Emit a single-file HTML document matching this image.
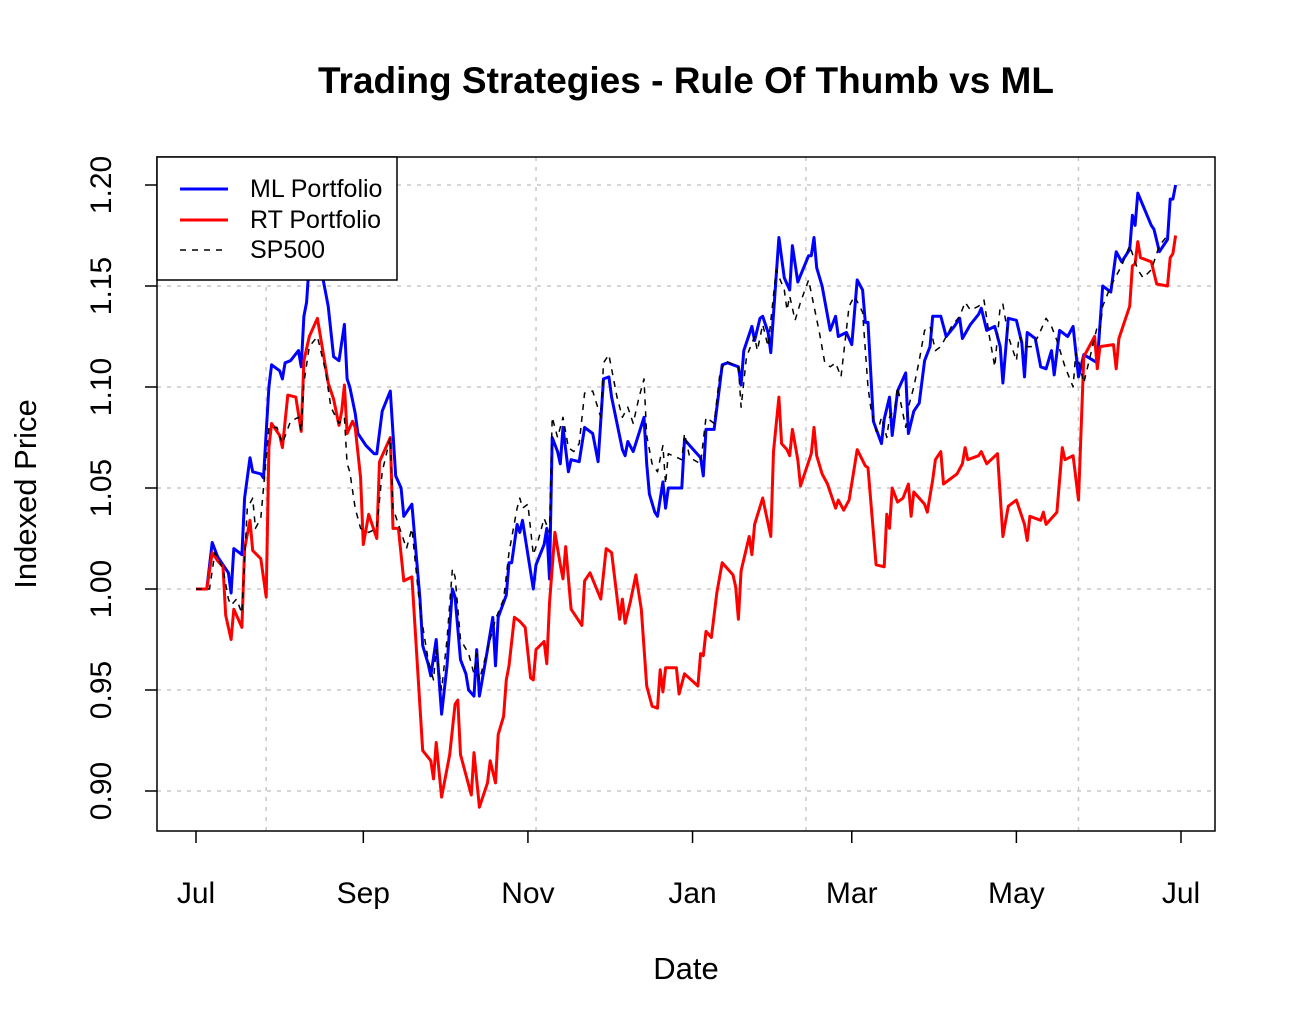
<!DOCTYPE html>
<html><head><meta charset="utf-8"><style>
html,body{margin:0;padding:0;background:#fff;}
svg{display:block;font-family:"Liberation Sans",Arial,sans-serif;}
</style></head><body>
<svg id="chart" width="1296" height="1028" viewBox="0 0 1296 1028" xmlns="http://www.w3.org/2000/svg">
<rect width="1296" height="1028" fill="#fff"/>
<text x="686" y="93" text-anchor="middle" font-size="37" font-weight="bold">Trading Strategies - Rule Of Thumb vs ML</text>
<text x="686" y="979" text-anchor="middle" font-size="31">Date</text>
<text transform="translate(36,494) rotate(-90)" text-anchor="middle" font-size="31">Indexed Price</text>
<g id="grid"></g>
<g id="series"></g>
<rect x="157" y="157" width="1058" height="674" fill="none" stroke="#000" stroke-width="1.5"/>
<g id="axes"></g>
<g>
<rect x="157" y="157" width="240" height="123" fill="#fff" stroke="#000" stroke-width="1.5"/>
<g><line x1="180" y1="189" x2="228" y2="189" stroke="#0000ff" stroke-width="3"/><text x="250" y="197" font-size="25">ML Portfolio</text></g>
<g><line x1="180" y1="220" x2="228" y2="220" stroke="#ff0000" stroke-width="3"/><text x="250" y="228" font-size="25">RT Portfolio</text></g>
<g><line x1="180" y1="250" x2="228" y2="250" stroke="#000" stroke-width="1.5" stroke-dasharray="6,6"/><text x="250" y="258" font-size="25">SP500</text></g>
</g>
</svg>
<script>
const xTickLabels = ["Jul","Sep","Nov","Jan","Mar","May","Jul"];
const xTickDays = [0,62,123,184,243,304,365];
const xGridDays = [26,126,226,327];
const yTicks = [0.90,0.95,1.00,1.05,1.10,1.15,1.20];

const mlDays = [0,4,6,8,10,12,13,14,16,17,18,20,21,24,25,27,28,31,32,33,35,38,39,40,41,42,43,46,47,49,51,53,55,56,57,59,60,61,63,66,67,69,72,73,74,76,77,80,83,84,86,87,89,91,93,95,96,98,100,101,103,104,105,108,110,111,112,115,116,117,119,120,121,123,125,126,129,130,131,132,134,135,136,138,139,142,144,147,149,151,153,154,158,159,160,162,166,167,168,170,171,173,174,175,180,181,183,187,188,189,192,194,195,197,201,202,203,206,207,209,210,212,213,216,218,220,221,223,227,228,229,230,232,235,237,238,241,243,245,247,248,249,251,254,255,257,258,260,263,264,266,268,270,272,273,276,278,281,283,284,287,290,291,293,296,298,299,301,304,306,307,308,311,313,315,317,318,320,323,325,327,329,334,336,339,341,343,346,347,348,349,354,355,357,360,361,362,363];
const mlVals = [1.000,1.000,1.023,1.016,1.012,1.008,0.998,1.020,1.018,1.017,1.045,1.065,1.058,1.057,1.055,1.100,1.111,1.108,1.104,1.112,1.113,1.118,1.110,1.135,1.142,1.162,1.175,1.160,1.154,1.140,1.115,1.113,1.131,1.104,1.100,1.087,1.077,1.075,1.071,1.067,1.067,1.088,1.098,1.077,1.056,1.050,1.036,1.042,0.995,0.972,0.963,0.957,0.975,0.938,0.962,1.000,0.996,0.965,0.958,0.950,0.947,0.970,0.947,0.970,0.986,0.962,0.986,0.997,1.013,1.013,1.032,1.028,1.034,1.017,1.000,1.012,1.022,1.030,1.005,1.075,1.068,1.062,1.080,1.058,1.064,1.063,1.080,1.077,1.063,1.104,1.105,1.095,1.069,1.066,1.073,1.068,1.085,1.062,1.047,1.038,1.036,1.053,1.040,1.050,1.050,1.074,1.071,1.065,1.056,1.079,1.079,1.100,1.111,1.112,1.110,1.101,1.118,1.130,1.123,1.134,1.135,1.127,1.117,1.174,1.154,1.148,1.170,1.152,1.165,1.165,1.174,1.159,1.150,1.128,1.135,1.125,1.127,1.121,1.153,1.148,1.132,1.132,1.083,1.072,1.084,1.095,1.076,1.098,1.107,1.077,1.088,1.092,1.113,1.120,1.135,1.135,1.125,1.130,1.134,1.124,1.131,1.136,1.139,1.128,1.130,1.120,1.102,1.134,1.133,1.122,1.105,1.127,1.124,1.110,1.109,1.118,1.106,1.128,1.125,1.130,1.105,1.116,1.112,1.150,1.147,1.167,1.162,1.168,1.185,1.180,1.196,1.180,1.178,1.167,1.173,1.193,1.193,1.200];

const rtDays = [0,4,6,8,10,11,13,14,17,18,20,21,24,26,27,28,31,32,34,37,39,40,42,45,47,49,51,53,54,55,56,58,59,61,62,64,67,68,72,73,75,77,80,84,87,88,89,91,94,96,97,98,100,102,103,105,108,109,111,112,114,115,116,118,120,122,124,125,126,129,130,131,133,135,136,137,139,143,144,146,150,152,154,157,158,159,161,163,165,167,169,171,172,173,174,178,179,181,186,187,188,189,191,193,195,199,200,201,202,205,206,207,210,213,214,216,217,219,220,221,223,224,228,229,230,232,234,237,238,240,242,245,248,249,252,255,256,257,258,260,262,264,265,266,270,271,273,274,276,277,282,284,285,286,290,291,293,297,299,301,304,306,307,308,309,313,314,315,319,321,322,325,327,329,333,334,335,340,341,342,346,347,348,349,350,354,356,360,361,362,363];
const rtVals = [1.000,1.000,1.018,1.014,1.011,0.987,0.975,0.990,0.981,1.020,1.034,1.019,1.015,0.996,1.070,1.082,1.076,1.070,1.096,1.095,1.078,1.113,1.125,1.134,1.118,1.102,1.094,1.081,1.088,1.101,1.077,1.083,1.080,1.055,1.022,1.037,1.025,1.063,1.075,1.030,1.030,1.004,1.006,0.920,0.915,0.906,0.924,0.897,0.918,0.943,0.945,0.918,0.908,0.898,0.919,0.892,0.904,0.915,0.904,0.928,0.937,0.955,0.962,0.986,0.984,0.981,0.956,0.955,0.970,0.974,0.963,0.993,1.028,1.012,1.005,1.021,0.990,0.982,1.004,1.008,0.995,1.020,1.018,0.985,0.995,0.983,0.994,1.007,0.990,0.952,0.942,0.941,0.960,0.949,0.961,0.961,0.948,0.958,0.952,0.968,0.967,0.979,0.976,0.998,1.013,1.007,1.001,0.985,1.009,1.026,1.017,1.032,1.045,1.026,1.068,1.095,1.072,1.069,1.066,1.079,1.064,1.051,1.067,1.080,1.066,1.057,1.052,1.040,1.044,1.039,1.044,1.069,1.061,1.060,1.012,1.011,1.037,1.030,1.050,1.043,1.045,1.052,1.036,1.048,1.042,1.038,1.054,1.064,1.068,1.052,1.057,1.062,1.070,1.064,1.066,1.068,1.062,1.067,1.026,1.041,1.044,1.036,1.032,1.024,1.036,1.034,1.038,1.032,1.038,1.070,1.064,1.066,1.044,1.115,1.125,1.109,1.120,1.121,1.109,1.124,1.140,1.160,1.161,1.172,1.164,1.162,1.151,1.150,1.164,1.166,1.175];

const spDays = [0,5,7,10,12,13,15,17,19,21,22,24,25,27,30,32,35,38,39,40,42,45,48,50,53,55,56,57,59,61,64,67,69,72,73,75,78,80,83,86,88,89,91,93,95,96,98,101,103,104,105,108,111,114,116,119,120,121,123,125,127,129,131,132,134,136,138,140,142,144,147,150,151,153,156,158,160,162,164,166,167,169,171,173,174,175,180,181,183,187,189,192,194,196,201,202,204,207,208,210,212,215,218,219,220,222,224,227,229,231,233,235,237,239,242,244,247,249,250,252,253,254,256,257,259,260,263,264,266,268,270,272,274,276,278,280,283,285,287,290,292,294,296,298,299,301,304,305,307,310,312,315,317,319,322,325,326,327,329,334,335,336,339,343,346,348,349,351,354,357,360,361,363];
const spVals = [1.000,1.000,1.018,1.010,0.995,0.992,0.995,0.988,1.040,1.045,1.030,1.035,1.050,1.080,1.080,1.072,1.083,1.085,1.078,1.102,1.120,1.125,1.108,1.090,1.082,1.085,1.062,1.058,1.040,1.030,1.028,1.030,1.058,1.075,1.040,1.032,1.020,1.030,0.990,0.965,0.955,0.970,0.950,0.975,1.010,1.006,0.975,0.968,0.958,0.968,0.955,0.970,0.985,0.995,1.018,1.040,1.045,1.040,1.042,1.017,1.025,1.035,1.028,1.085,1.075,1.085,1.070,1.068,1.072,1.097,1.098,1.085,1.112,1.116,1.095,1.085,1.090,1.082,1.094,1.104,1.076,1.062,1.058,1.071,1.052,1.067,1.064,1.077,1.065,1.062,1.085,1.082,1.105,1.113,1.110,1.090,1.115,1.125,1.118,1.131,1.120,1.158,1.148,1.138,1.145,1.133,1.142,1.153,1.140,1.127,1.112,1.110,1.112,1.105,1.140,1.145,1.137,1.100,1.090,1.078,1.080,1.085,1.075,1.085,1.090,1.100,1.080,1.090,1.100,1.113,1.128,1.130,1.118,1.120,1.125,1.130,1.135,1.142,1.138,1.140,1.143,1.125,1.110,1.140,1.141,1.125,1.113,1.125,1.120,1.120,1.125,1.134,1.130,1.123,1.110,1.100,1.117,1.113,1.102,1.130,1.128,1.140,1.150,1.160,1.170,1.162,1.158,1.154,1.158,1.170,1.175];

const NS = "http://www.w3.org/2000/svg";
const X0 = 196, PXD = (1181-196)/365;
const xs = d => X0 + d*PXD;
const ys = v => 185 + (1.20 - v)*2020;
function mk(tag, attrs, parent){const e=document.createElementNS(NS,tag);for(const k in attrs)e.setAttribute(k,attrs[k]);parent.appendChild(e);return e;}
const grid=document.getElementById('grid'), axes=document.getElementById('axes'), series=document.getElementById('series');
yTicks.forEach(v=>{
  const l=mk('line',{x1:157,x2:1215,y1:ys(v),y2:ys(v),stroke:'#c8c8c8','stroke-width':1.5,'stroke-dasharray':'4,6'},grid);
  
  
  const t=mk('line',{x1:145,x2:157,y1:ys(v),y2:ys(v),stroke:'#000','stroke-width':1.5},axes);
  
  
  const tx=mk('text',{transform:`translate(111,${ys(v)}) rotate(-90)`,'text-anchor':'middle','font-size':30},axes);
  tx.textContent=v.toFixed(2);
  
  
});
xGridDays.forEach(d=>{
  const l=mk('line',{x1:xs(d),x2:xs(d),y1:157,y2:831,stroke:'#c8c8c8','stroke-width':1.5,'stroke-dasharray':'4,6'},grid);
  
  
});
xTickDays.forEach((d,i)=>{
  const t=mk('line',{x1:xs(d),x2:xs(d),y1:831,y2:843,stroke:'#000','stroke-width':1.5},axes);
  
  
  const tx=mk('text',{x:xs(d),y:903,'text-anchor':'middle','font-size':30},axes);
  tx.textContent=xTickLabels[i];
  
  
});
function line(days, vals, color, w, dash, name){
  const pts=days.map((d,i)=>xs(d).toFixed(1)+','+ys(vals[i]).toFixed(1)).join(' ');
  const attrs={points:pts,fill:'none',stroke:color,'stroke-width':w,'stroke-linejoin':'round'};
  if(dash)attrs['stroke-dasharray']=dash;
  const p=mk('polyline',attrs,series);
  
  
}
line(mlDays, mlVals, '#0000ff', 3, null, 'ml-portfolio-line');
line(rtDays, rtVals, '#ff0000', 3, null, 'rt-portfolio-line');
line(spDays, spVals, '#000000', 1.5, '6,6', 'sp500-line');
</script>
</body></html>
